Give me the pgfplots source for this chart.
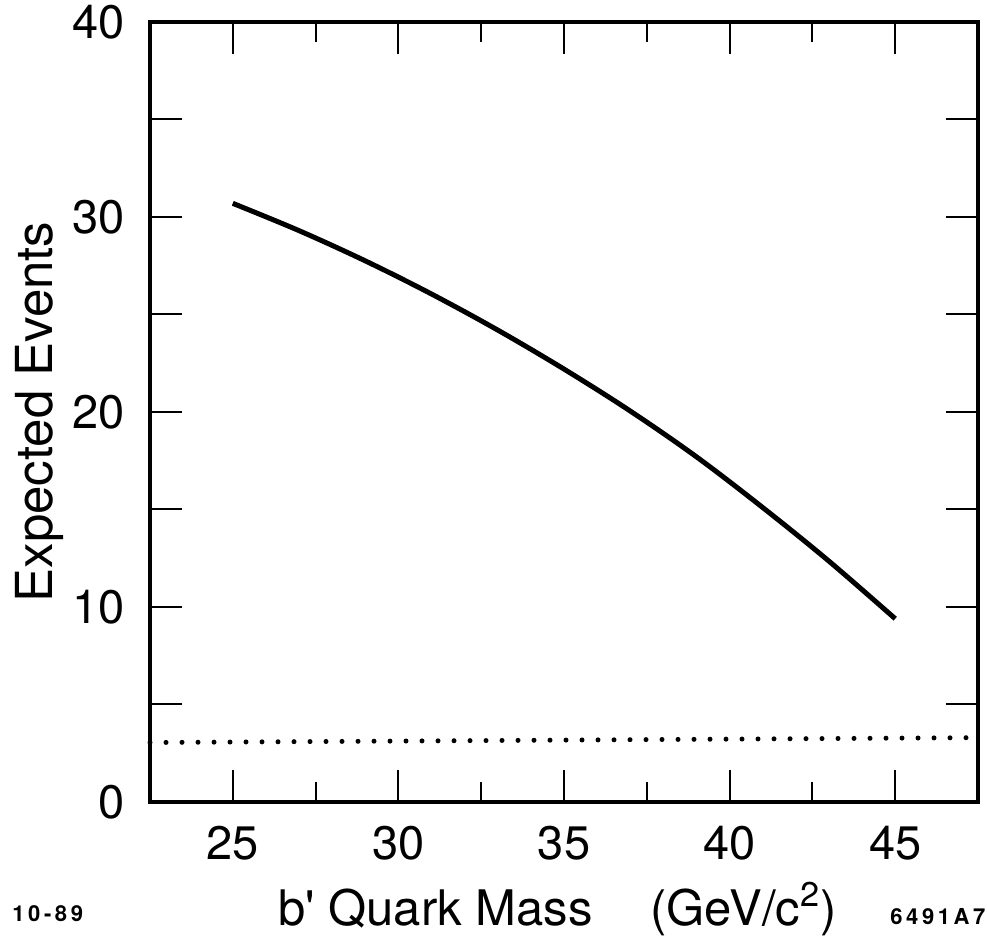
\documentclass[border=0pt]{standalone}
\usepackage{fontspec}
\setmainfont{TeX Gyre Heros}
\usepackage{pgfplots}
\pgfplotsset{compat=1.18}
\begin{document}
\begin{tikzpicture}
\begin{axis}[
  scale only axis,
  width=414pt, height=390pt,
  at={(0pt,0pt)}, anchor=south west,
  xmin=22.5, xmax=47.5, ymin=0, ymax=40,
  axis line style={line width=1.6pt},
  xtick={25,30,...,45},
  minor xtick={27.5,32.5,37.5,42.5},
  ytick={0,5,...,40},
  yticklabels={0,,10,,20,,30,,40},
  tick pos=both,
  tick align=inside,
  major tick length=16pt,
  minor tick length=10pt,
  every tick/.style={black, line width=1pt},
  /pgf/number format/assume math mode=true,
  every tick label/.append style={font=\fontsize{23.5}{26}\selectfont, inner sep=0pt},
  xticklabel shift=12pt,
  yticklabel shift=12.5pt,
  clip=false,
]
\addplot[black, line width=2.5pt, smooth, tension=0.55] coordinates {
  (25,30.7) (27,29.3) (29,27.75) (31,26.05) (33,24.2) (35,22.2)
  (37,20.05) (39,17.7) (41,15.1) (43,12.35) (45,9.4)
};
\addplot[black, line width=2.5pt, line cap=round, dash pattern=on 0pt off 8pt] coordinates {
  (22.5,3.05) (47.5,3.3)
};
\end{axis}
\node[rotate=90, anchor=north, inner sep=0pt, font=\fontsize{25.5}{28}\selectfont] at (-67.5pt,195pt) {Expected Events};
\node[anchor=base west, inner sep=0pt, font=\fontsize{24.5}{28}\selectfont] at (64pt,-61.5pt) {b\textquotesingle\ Quark Mass};
\node[anchor=base west, inner sep=0pt, font=\fontsize{24.5}{28}\selectfont] at (250pt,-61.5pt) {(GeV/c\textsuperscript{2})};
\node[anchor=base west, inner sep=0pt, font=\fontsize{11}{12}\selectfont\bfseries] at (-69pt,-59.5pt) {1\kern1.8pt0\kern1.8pt-\kern1.8pt8\kern1.8pt9};
\node[anchor=base west, inner sep=0pt, font=\fontsize{11}{12}\selectfont\bfseries] at (370pt,-61pt) {6\kern1.8pt4\kern1.8pt9\kern1.8pt1\kern1.8pt A\kern1.8pt7};
\pgfresetboundingbox
\path (-75pt,-69pt) rectangle (419pt,401pt);
\end{tikzpicture}
\end{document}
